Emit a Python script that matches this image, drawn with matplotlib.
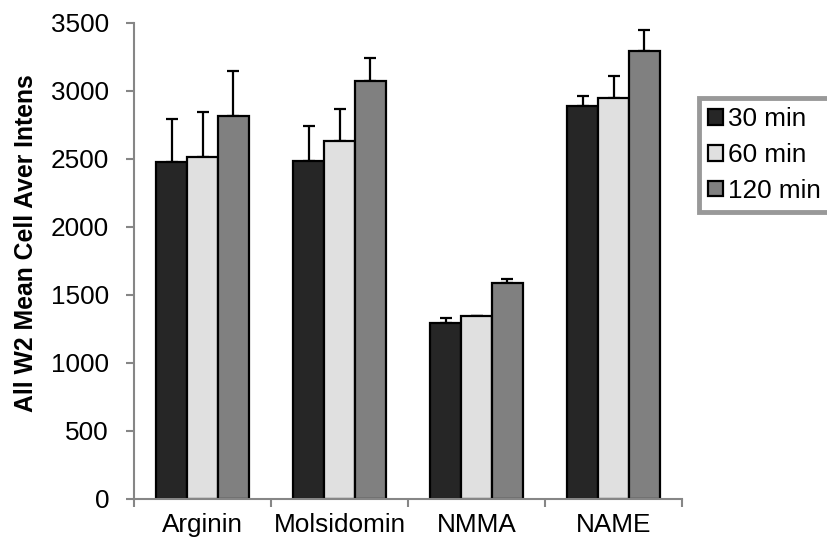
import numpy as np
import matplotlib
matplotlib.use("Agg")
import matplotlib.pyplot as plt

plt.rcParams['font.family'] = ['Liberation Sans', 'DejaVu Sans']

categories = ["Arginin", "Molsidomin", "NMMA", "NAME"]
series_names = ["30 min", "60 min", "120 min"]
means = {
    "30 min": [2478, 2485, 1294, 2890],
    "60 min": [2515, 2632, 1346, 2949],
    "120 min": [2816, 3074, 1588, 3294],
}
errors = {
    "30 min": [316, 258, 37, 73],
    "60 min": [331, 236, 0, 161],
    "120 min": [331, 165, 30, 155],
}
colors = ["#262626", "#e0e0e0", "#808080"]

fs = 18.8
W, H = 827, 547
fig = plt.figure(figsize=(W / 100, H / 100), dpi=100)
ax = fig.add_axes([134 / W, 1 - 499 / H, (682 - 134) / W, (499 - 23) / H])

x = np.arange(len(categories))
bw = 0.224
for k, name in enumerate(series_names):
    pos = x + (k - 1) * bw
    ax.bar(pos, means[name], width=bw, color=colors[k], edgecolor="black",
           linewidth=1.6, label=name, zorder=2)
    ax.errorbar(pos, means[name], yerr=[np.zeros(len(categories)), errors[name]],
                fmt="none", ecolor="black", elinewidth=1.6, capsize=4.3,
                capthick=1.6, zorder=1)

ax.set_xlim(-0.5, len(categories) - 0.5)
ax.set_ylim(0, 3500)
ax.set_yticks(np.arange(0, 3501, 500))
ax.set_xticks(np.arange(-0.5, len(categories)), minor=False)
ax.set_xticklabels([])
ax.set_xticks(x, minor=True)
ax.set_xticklabels(categories, minor=True)
ax.tick_params(axis="x", which="minor", length=0, labelsize=fs, pad=10)
ax.tick_params(axis="x", which="major", length=6, color="#868686", width=1.5)
ax.tick_params(axis="y", length=6, color="#868686", width=1.5, labelsize=fs, pad=12)

for s in ["top", "right"]:
    ax.spines[s].set_visible(False)
for s in ["left", "bottom"]:
    ax.spines[s].set_color("#868686")
    ax.spines[s].set_linewidth(1.5)

fig.text(26 / W, 1 - 243 / H, "All W2 Mean Cell Aver Intens", rotation=90,
         ha="center", va="center", fontsize=17.8, fontweight="bold")

leg = fig.legend(loc="upper left", bbox_to_anchor=(699 / W, 1 - 98 / H),
                 fontsize=fs, frameon=True, fancybox=False,
                 handlelength=0.55, handleheight=0.55, handletextpad=0.2,
                 borderpad=0.35, labelspacing=0.45, borderaxespad=0)
leg.get_frame().set_edgecolor("#808080")
leg.get_frame().set_linewidth(3.5)

fig.savefig("out.png", dpi=100)
